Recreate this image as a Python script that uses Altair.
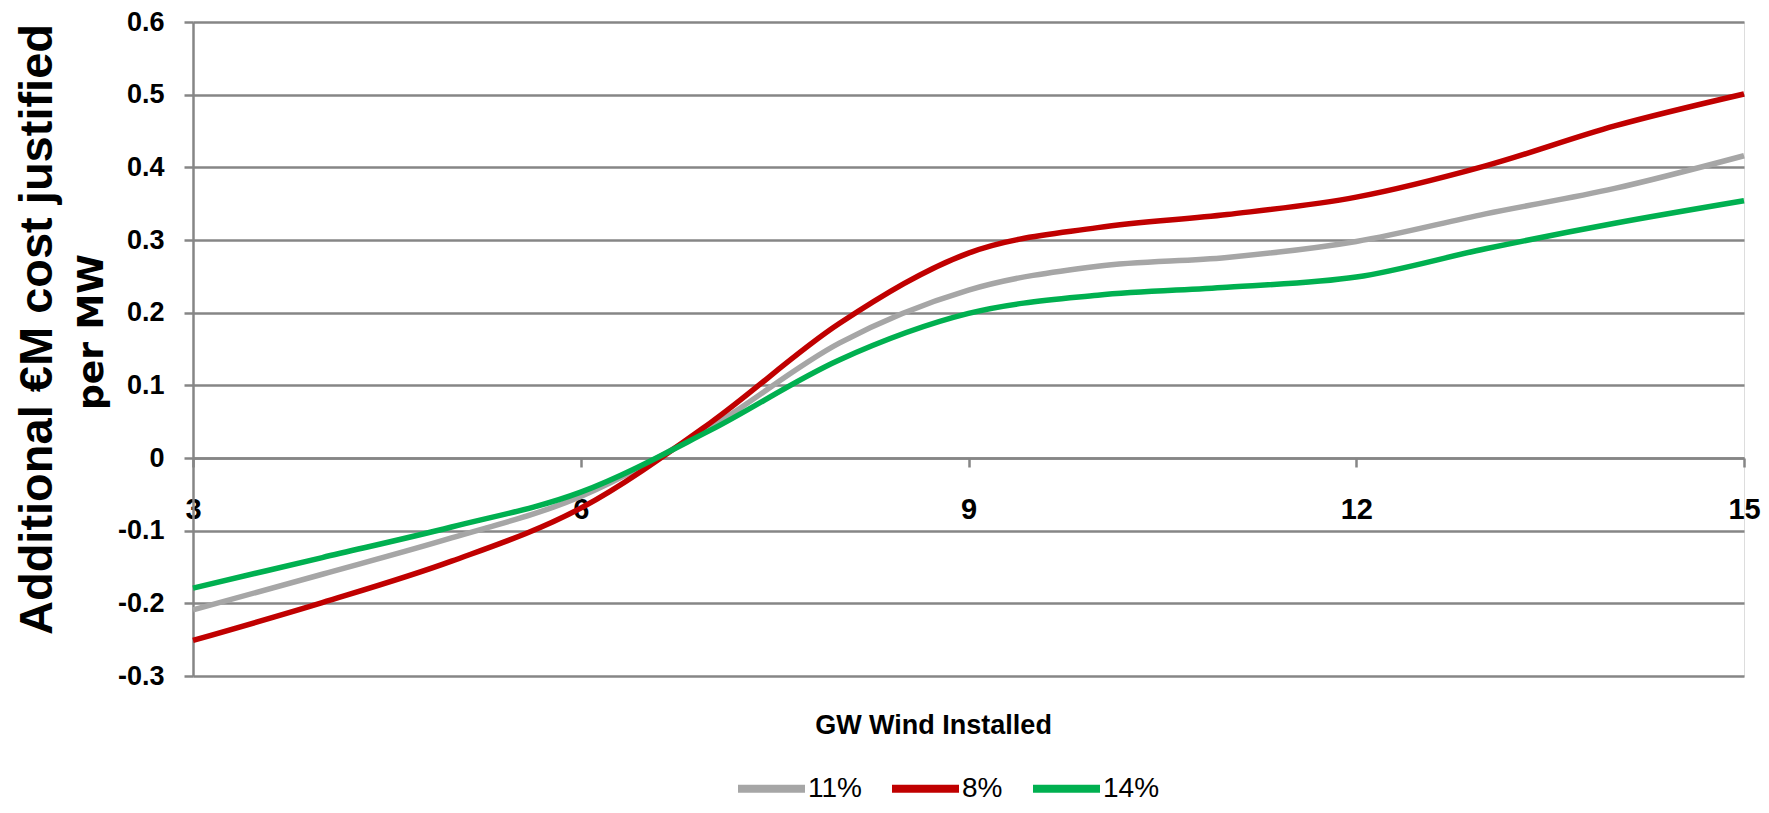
import altair as alt
import pandas as pd

# ---- data ----
gw_installed = [3, 4, 5, 6, 7, 8, 9, 10, 11, 12, 13, 14, 15]
rate_11 = [-0.209, -0.160, -0.110, -0.053, 0.042, 0.158, 0.231, 0.264, 0.276, 0.298, 0.336, 0.371, 0.416]
rate_8 = [-0.251, -0.199, -0.142, -0.069, 0.048, 0.185, 0.282, 0.317, 0.335, 0.359, 0.402, 0.457, 0.501]
rate_14 = [-0.179, -0.137, -0.095, -0.047, 0.038, 0.135, 0.199, 0.224, 0.235, 0.249, 0.288, 0.323, 0.354]
series_names = ["11%", "8%", "14%"]
series_colors = ["#A6A6A6", "#C00000", "#00B050"]
x_tick_values = [3, 6, 9, 12, 15]
y_tick_values = [-0.3, -0.2, -0.1, 0, 0.1, 0.2, 0.3, 0.4, 0.5, 0.6]
y_title_line1 = "Additional €M cost justified"
y_title_line2 = "per MW"
x_title = "GW Wind Installed"

rows = []
for name, vals in zip(series_names, [rate_11, rate_8, rate_14]):
    for xv, yv in zip(gw_installed, vals):
        rows.append({"gw": xv, "value": yv, "series": name})
df = pd.DataFrame(rows)

PLOT_W, PLOT_H = 1551, 654
zero_offset = -(PLOT_H * 0.3 / 0.9)  # x axis sits on y = 0
axis_y = PLOT_H + zero_offset

GRID = "#868686"
BOLD = "Liberation Sans"

lines = alt.Chart(df).mark_line(interpolate="monotone", strokeWidth=5.5).encode(
    x=alt.X(
        "gw:Q",
        scale=alt.Scale(domain=[3, 15], nice=False, zero=False),
        axis=alt.Axis(
            values=x_tick_values, format="d", grid=False, orient="bottom",
            offset=zero_offset, domainColor=GRID, domainWidth=2.5,
            tickColor=GRID, tickWidth=2.5, tickSize=9,
            labelFont=BOLD, labelFontWeight="bold", labelFontSize=29, labelColor="black",
            labelBaseline="alphabetic", labelPadding=51, labelFlush=False,
            labelOverlap=False,
            title=x_title, titleFont=BOLD, titleFontWeight="bold", titleFontSize=27,
            titleColor="black", titleX=740, titleY=711 - axis_y,
            titleAlign="center", titleBaseline="alphabetic",
        ),
    ),
    y=alt.Y(
        "value:Q",
        scale=alt.Scale(domain=[-0.3, 0.6], nice=False, zero=False),
        axis=alt.Axis(
            values=y_tick_values,
            labelExpr="datum.value < 0 ? '-' + format(-datum.value, '.1~f') : format(datum.value, '.1~f')",
            grid=True, gridColor=GRID, gridWidth=2.5,
            domainColor=GRID, domainWidth=2.5,
            tickColor=GRID, tickWidth=2.5, tickSize=9,
            labelFont=BOLD, labelFontWeight="bold", labelFontSize=27, labelColor="black",
            labelPadding=20, labelAlign="right", labelBaseline="middle",
            title=y_title_line1, titleFont=BOLD, titleFontWeight="bold", titleFontSize=47,
            titleColor="black", titleAngle=270, titleX=-142, titleY=307,
            titleAlign="center", titleBaseline="alphabetic",
        ),
    ),
    color=alt.Color(
        "series:N",
        scale=alt.Scale(domain=series_names, range=series_colors),
        legend=alt.Legend(
            title=None, orient="none", direction="horizontal",
            legendX=541, legendY=729,
            symbolType="stroke", symbolSize=4489, symbolStrokeWidth=8,
            labelFont=BOLD, labelFontSize=28, labelColor="black",
            labelOffset={"expr": "-1"}, columnPadding=14, padding=0,
        ),
    ),
)

title2 = alt.Chart(pd.DataFrame({"t": [y_title_line2]})).mark_text(
    angle=270, align="center", baseline="alphabetic",
    font="DejaVu Sans", fontSize=36, fontWeight="bold", color="black",
).encode(text="t:N", x=alt.value(-90), y=alt.value(310))

chart = alt.layer(lines, title2).properties(
    width=PLOT_W, height=PLOT_H,
    autosize=alt.AutoSizeParams(type="none"),
    padding={"left": 185, "top": 14, "right": 17, "bottom": 129},
).configure_view(stroke=None).configure(background="white")

chart.save("out.html", embed_options={"renderer": "svg", "actions": False})
